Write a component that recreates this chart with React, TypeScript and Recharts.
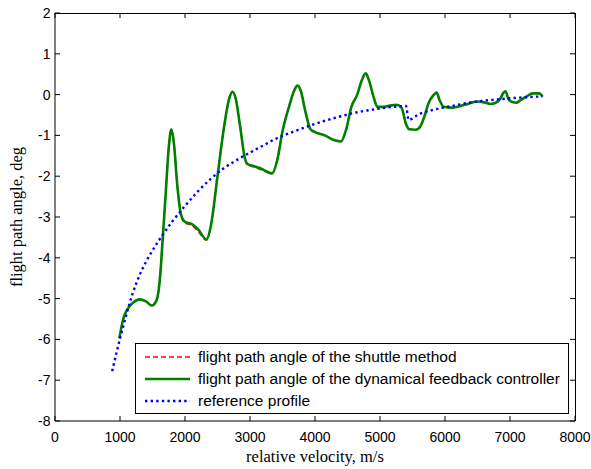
import React from 'react';
import { LineChart, Line, XAxis, YAxis, Legend } from 'recharts';

// velocity samples (m/s) shared by both controller traces
const CTRL_V = [
  990, 1050, 1100, 1150, 1200, 1300, 1400, 1490, 1560, 1590, 1620, 1650, 1700, 1750, 1790, 1830,
  1880, 1940, 2000, 2100, 2200, 2330, 2400, 2500, 2600, 2680, 2730, 2780, 2850, 2920, 2960,
  3050, 3150, 3250, 3340, 3420, 3500, 3600, 3680, 3730, 3780, 3850, 3930, 4000, 4150, 4300,
  4400, 4480, 4560, 4650, 4720, 4780, 4830, 4900, 4960, 5050, 5150, 5250, 5330, 5400, 5450,
  5550, 5620, 5680, 5750, 5820, 5870, 5920, 5980, 6100, 6300, 6500, 6600, 6700, 6780, 6850,
  6900, 6930, 6980, 7050, 7100, 7150, 7250, 7350, 7450, 7500,
];

// dynamical feedback controller, deg
const FEEDBACK_ANGLE = [
  -5.97, -5.5, -5.3, -5.18, -5.1, -5.02, -5.07, -5.17, -5.05, -4.85, -4.4, -3.7, -2.5, -1.3, -0.85, -1.2,
  -2.2, -2.95, -3.12, -3.17, -3.3, -3.55, -3.2, -2.0, -0.8, -0.1, 0.07, -0.1, -0.8, -1.55, -1.7,
  -1.75, -1.8, -1.88, -1.93, -1.6, -0.9, -0.3, 0.1, 0.22, 0.1, -0.4, -0.85, -0.92, -1.0, -1.12,
  -1.15, -0.85, -0.3, 0.0, 0.35, 0.52, 0.35, -0.05, -0.3, -0.3, -0.27, -0.25, -0.32, -0.72, -0.85,
  -0.86, -0.78, -0.55, -0.2, -0.02, 0.05, -0.15, -0.3, -0.32, -0.25, -0.17, -0.19, -0.23, -0.2, -0.1,
  0.05, 0.08, -0.12, -0.19, -0.2, -0.15, -0.05, 0.03, 0.03, -0.05,
];

// shuttle method, deg
const SHUTTLE_ANGLE = [
  -5.97, -5.5, -5.3, -5.18, -5.1, -5.02, -5.07, -5.17, -5.05, -4.85, -4.4, -3.7, -2.5, -1.3, -0.85, -1.2,
  -2.2, -2.98, -3.15, -3.2, -3.35, -3.57, -3.2, -2.0, -0.8, -0.1, 0.07, -0.1, -0.8, -1.55, -1.7,
  -1.77, -1.83, -1.9, -1.93, -1.6, -0.9, -0.3, 0.1, 0.22, 0.1, -0.4, -0.85, -0.92, -1.0, -1.12,
  -1.15, -0.85, -0.3, 0.0, 0.35, 0.52, 0.35, -0.05, -0.3, -0.3, -0.27, -0.25, -0.32, -0.72, -0.85,
  -0.86, -0.78, -0.55, -0.2, -0.02, 0.05, -0.15, -0.3, -0.32, -0.25, -0.17, -0.19, -0.23, -0.2, -0.1,
  0.05, 0.08, -0.12, -0.19, -0.2, -0.15, -0.05, 0.03, 0.03, -0.05,
];

// reference profile
const REF_V = [
  880, 950, 1000, 1050, 1100, 1200, 1300, 1400, 1500, 1600, 1800, 2000, 2200, 2400, 2600, 2800, 3000,
  3200, 3400, 3600, 3800, 4000, 4200, 4400, 4600, 4800, 5000, 5200, 5400, 5440, 5600, 5800, 6000,
  6200, 6400, 6600, 6800, 7000, 7200, 7500,
];
const REF_ANGLE = [
  -6.78, -6.3, -5.98, -5.68, -5.38, -4.85, -4.43, -4.1, -3.82, -3.57, -3.12, -2.73, -2.37, -2.06, -1.8,
  -1.6, -1.42, -1.25, -1.08, -0.95, -0.83, -0.72, -0.62, -0.53, -0.45, -0.39, -0.34, -0.3, -0.28,
  -0.62, -0.48, -0.38, -0.31, -0.25, -0.19, -0.15, -0.12, -0.09, -0.07, -0.04,
];

const X_TICKS = [0, 1000, 2000, 3000, 4000, 5000, 6000, 7000, 8000];
const Y_TICKS = [-8, -7, -6, -5, -4, -3, -2, -1, 0, 1, 2];

const SERIES = [
  { name: 'flight path angle of the shuttle method', color: '#ff0000', width: 1.5, dash: '5 3' },
  { name: 'flight path angle of the dynamical feedback controller', color: '#008000', width: 2.6, dash: undefined },
  { name: 'reference profile', color: '#0000ff', width: 2.4, dash: '2.4 3.2' },
];

const shuttleData = CTRL_V.map((v, i) => ({ v, a: SHUTTLE_ANGLE[i] }));
const feedbackData = CTRL_V.map((v, i) => ({ v, a: FEEDBACK_ANGLE[i] }));
const refData = REF_V.map((v, i) => ({ v, a: REF_ANGLE[i] }));

// layout
const W = 591;
const H = 469;
const MARGIN = { top: 13, right: 16, bottom: 0, left: 0 };
const Y_AXIS_W = 55;
const X_AXIS_H = 48;
const PLOT_W = W - MARGIN.left - MARGIN.right - Y_AXIS_W;
const PLOT_H = H - MARGIN.top - MARGIN.bottom - X_AXIS_H;

const SANS = '"Liberation Sans", Arial, sans-serif';
const SERIF = '"Liberation Serif", "Times New Roman", serif';
const TICK_LEN = 5;

// bottom ticks are mirrored onto the top edge of the box
const BottomTick = (p: any) => {
  const top = p.y - PLOT_H;
  return (
    <g>
      <line x1={p.x} y1={p.y} x2={p.x} y2={p.y - TICK_LEN} stroke="#000" />
      <line x1={p.x} y1={top} x2={p.x} y2={top + TICK_LEN} stroke="#000" />
      <text x={p.x} y={p.y + 20.5} textAnchor="middle" fontFamily={SANS} fontSize={14} fill="#000">
        {p.payload.value}
      </text>
    </g>
  );
};

// left ticks are mirrored onto the right edge of the box
const LeftTick = (p: any) => {
  const right = p.x + PLOT_W;
  return (
    <g>
      <line x1={p.x} y1={p.y} x2={p.x + TICK_LEN} y2={p.y} stroke="#000" />
      <line x1={right} y1={p.y} x2={right - TICK_LEN} y2={p.y} stroke="#000" />
      <text x={p.x - 4.5} y={p.y} dy="0.36em" textAnchor="end" fontFamily={SANS} fontSize={14} fill="#000">
        {p.payload.value}
      </text>
    </g>
  );
};

const XLabel = (p: any) => {
  const vb = p.viewBox;
  return (
    <text x={vb.x + vb.width / 2} y={vb.y + 40.5} textAnchor="middle" fontFamily={SERIF} fontSize={16.5} fill="#000">
      relative velocity, m/s
    </text>
  );
};

const YLabel = (p: any) => {
  const vb = p.viewBox;
  return (
    <text
      transform={`translate(${vb.x + 22},${vb.y + vb.height / 2}) rotate(-90)`}
      textAnchor="middle"
      fontFamily={SERIF}
      fontSize={16.5}
      fill="#000"
    >
      flight path angle, deg
    </text>
  );
};

const LegendBox = () => (
  <div
    style={{
      boxSizing: 'border-box',
      width: 434,
      height: 71,
      border: '1px solid #000',
      background: '#fff',
      padding: '2px 0 0 9px',
      fontFamily: SANS,
      fontSize: 15.5,
      color: '#000',
    }}
  >
    {SERIES.map((s) => (
      <div key={s.name} style={{ height: 22, display: 'flex', alignItems: 'center', whiteSpace: 'nowrap' }}>
        <svg width={45} height={10} style={{ marginRight: 8, flex: 'none' }}>
          <line x1={0} y1={5} x2={45} y2={5} stroke={s.color} strokeWidth={s.width} strokeDasharray={s.dash} />
        </svg>
        <span>{s.name}</span>
      </div>
    ))}
  </div>
);

export default function App() {
  return (
    <div style={{ position: 'absolute', left: 0, top: 0, width: W, height: H, background: '#fff' }}>
      <LineChart width={W} height={H} margin={MARGIN}>
        <XAxis
          dataKey="v"
          type="number"
          domain={[0, 8000]}
          ticks={X_TICKS}
          interval={0}
          height={X_AXIS_H}
          tickSize={0}
          tickMargin={0}
          tickLine={false}
          tick={BottomTick}
          axisLine={{ stroke: '#000' }}
          allowDataOverflow
          label={XLabel}
        />
        <YAxis
          type="number"
          domain={[-8, 2]}
          ticks={Y_TICKS}
          interval={0}
          width={Y_AXIS_W}
          tickSize={0}
          tickMargin={0}
          tickLine={false}
          tick={LeftTick}
          axisLine={{ stroke: '#000' }}
          allowDataOverflow
          label={YLabel}
        />
        <Line
          data={shuttleData}
          dataKey="a"
          name={SERIES[0].name}
          type="monotone"
          stroke={SERIES[0].color}
          strokeWidth={SERIES[0].width}
          strokeDasharray={SERIES[0].dash}
          dot={false}
          activeDot={false}
          isAnimationActive={false}
        />
        <Line
          data={feedbackData}
          dataKey="a"
          name={SERIES[1].name}
          type="monotone"
          stroke={SERIES[1].color}
          strokeWidth={SERIES[1].width}
          dot={false}
          activeDot={false}
          isAnimationActive={false}
        />
        <Line
          data={refData}
          dataKey="a"
          name={SERIES[2].name}
          type="monotone"
          stroke={SERIES[2].color}
          strokeWidth={SERIES[2].width}
          strokeDasharray={SERIES[2].dash}
          dot={false}
          activeDot={false}
          isAnimationActive={false}
        />
        <Legend
          layout="horizontal"
          verticalAlign="middle"
          align="center"
          content={LegendBox}
          wrapperStyle={{ left: 135, top: 343, width: 434, height: 71 }}
        />
      </LineChart>
      {/* top and right sides of the axes box */}
      <div
        style={{
          position: 'absolute',
          left: MARGIN.left + Y_AXIS_W,
          top: MARGIN.top - 0.5,
          width: PLOT_W + 0.5,
          height: PLOT_H,
          boxSizing: 'border-box',
          borderTop: '1px solid #000',
          borderRight: '1px solid #000',
          pointerEvents: 'none',
        }}
      />
    </div>
  );
}
